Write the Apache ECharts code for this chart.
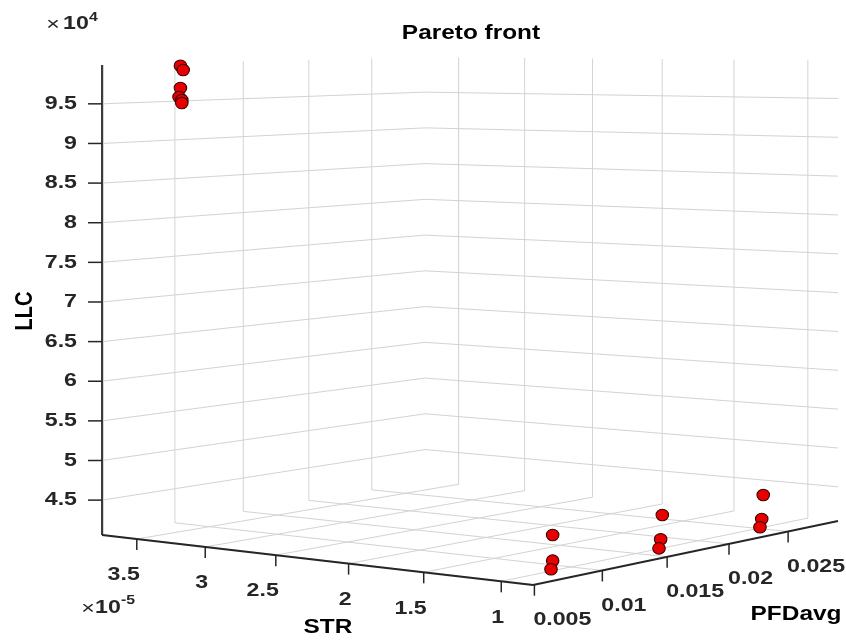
<!DOCTYPE html>
<html>
<head>
<meta charset="utf-8">
<script src="https://cdn.jsdelivr.net/npm/echarts@6/dist/echarts.min.js"></script>
<style>
  html, body { margin: 0; padding: 0; background: #ffffff; }
  #chart { width: 846px; height: 640px; }
</style>
</head>
<body>
<div id="chart"></div>
<script>
// Pareto-optimal designs: spurious trip rate, average PFD and life-cycle cost
const strValues = [3.19e-5, 3.17e-5, 3.19e-5, 3.20e-5, 3.18e-5, 3.18e-5,
                   0.80e-5, 0.80e-5, 0.80e-5,
                   0.80e-5, 0.80e-5, 0.80e-5,
                   0.80e-5, 0.80e-5, 0.80e-5];
const pfdValues = [0.0050, 0.0050, 0.0050, 0.0050, 0.0050, 0.0050,
                   0.00632, 0.00632, 0.00620,
                   0.01462, 0.01449, 0.01436,
                   0.02287, 0.02274, 0.02259];
const llcValues = [99900, 99380, 97140, 96020, 95660, 95290,
                   45910, 42940, 41980,
                   45760, 42880, 41830,
                   45810, 42850, 41860];

// Axis limits
const strRange = [0.80e-5, 3.76e-5];
const pfdRange = [0.0049, 0.0294];
const llcRange = [40600, 99900];

// Tick values and their labels
const strTicks = [1e-5, 1.5e-5, 2e-5, 2.5e-5, 3e-5, 3.5e-5];
const strTickLabels = ['1', '1.5', '2', '2.5', '3', '3.5'];
const pfdTicks = [0.005, 0.01, 0.015, 0.02, 0.025];
const pfdTickLabels = ['0.005', '0.01', '0.015', '0.02', '0.025'];
const llcTicks = [45000, 50000, 55000, 60000, 65000, 70000, 75000, 80000, 85000, 90000, 95000];
const llcTickLabels = ['4.5', '5', '5.5', '6', '6.5', '7', '7.5', '8', '8.5', '9', '9.5'];

// ---- 3-D box placement on the page (perspective view) ----
// floor corners: left (STR max, PFD min), front (STR min, PFD min),
// right (STR min, PFD max), back (STR max, PFD max); height = z extent at left corner
const box = {
  left: [102, 535], front: [533, 585], right: [838, 521], back: [425, 481],
  height: 470
};

function squareToQuad(p00, p10, p11, p01) {
  const sx = p00[0] - p10[0] + p11[0] - p01[0];
  const sy = p00[1] - p10[1] + p11[1] - p01[1];
  const dx1 = p10[0] - p11[0], dx2 = p01[0] - p11[0];
  const dy1 = p10[1] - p11[1], dy2 = p01[1] - p11[1];
  const den = dx1 * dy2 - dx2 * dy1;
  const g = (sx * dy2 - dx2 * sy) / den;
  const h = (dx1 * sy - sx * dy1) / den;
  return {
    A: p10[0] - p00[0] + g * p10[0], B: p01[0] - p00[0] + h * p01[0], C: p00[0],
    D: p10[1] - p00[1] + g * p10[1], E: p01[1] - p00[1] + h * p01[1], F: p00[1],
    g: g, h: h
  };
}
const H = squareToQuad(box.left, box.front, box.right, box.back);

// normalised box coordinates
const na = s => (strRange[1] - s) / (strRange[1] - strRange[0]);
const nb = p => (p - pfdRange[0]) / (pfdRange[1] - pfdRange[0]);
const nc = v => (v - llcRange[0]) / (llcRange[1] - llcRange[0]);

function project(a, b, c) {
  const w = 1 + H.g * a + H.h * b;
  return [(H.A * a + H.B * b + H.C) / w, (H.D * a + H.E * b + H.F - box.height * c) / w];
}

const SX = 1.22;                       // horizontal text stretch
const FONT = '"Liberation Sans", Arial, Helvetica, sans-serif';
const GRID_COLOR = '#d3d3d3';
const AXIS_COLOR = '#262626';

function renderFrame(params, api) {
  const pt = (a, b, c) => api.coord(project(a, b, c));
  const children = [];
  const seg = (p, q, color, width) => children.push({
    type: 'line', shape: { x1: p[0], y1: p[1], x2: q[0], y2: q[1] },
    style: { stroke: color, lineWidth: width }
  });
  const label = (text, x, y, align) => children.push({
    type: 'text', x: x, y: y, scaleX: SX,
    style: { text: text, font: 'bold 19px ' + FONT, fill: AXIS_COLOR,
             align: align, verticalAlign: 'middle' }
  });

  // back walls and floor grid
  llcTicks.forEach(v => {
    const c = nc(v);
    const p1 = pt(0, 0, c), p2 = pt(0, 1, c), p3 = pt(1, 1, c);
    children.push({ type: 'polyline', shape: { points: [p1, p2, p3] },
      style: { stroke: GRID_COLOR, lineWidth: 1, fill: null } });
  });
  pfdTicks.forEach(v => {
    const b = nb(v);
    seg(pt(0, b, 0), pt(0, b, 1), GRID_COLOR, 1);
    seg(pt(0, b, 0), pt(1, b, 0), GRID_COLOR, 1);
  });
  strTicks.forEach(v => {
    const a = na(v);
    seg(pt(a, 1, 0), pt(a, 1, 1), GRID_COLOR, 1);
    seg(pt(a, 0, 0), pt(a, 1, 0), GRID_COLOR, 1);
  });

  // axis lines
  seg(pt(0, 0, 0), pt(0, 0, 1), AXIS_COLOR, 1.8);
  seg(pt(0, 0, 0), pt(1, 0, 0), AXIS_COLOR, 1.8);
  seg(pt(1, 0, 0), pt(1, 1, 0), AXIS_COLOR, 1.8);

  // LLC ticks and labels
  llcTicks.forEach((v, i) => {
    const p = pt(0, 0, nc(v));
    seg([p[0] - 14, p[1]], p, AXIS_COLOR, 1.5);
    label(llcTickLabels[i], p[0] - 25, p[1], 'right');
  });
  // STR ticks and labels
  strTicks.forEach((v, i) => {
    const p = pt(na(v), 0, 0);
    seg(p, [p[0], p[1] + 11], AXIS_COLOR, 1.5);
    label(strTickLabels[i], p[0] + 3, p[1] + 36, 'right');
  });
  // PFDavg ticks and labels
  pfdTicks.forEach((v, i) => {
    const p = pt(1, nb(v), 0);
    seg(p, [p[0], p[1] + 11], AXIS_COLOR, 1.5);
    label(pfdTickLabels[i], p[0] - 1, p[1] + 35, 'left');
  });
  return { type: 'group', children: children };
}

function renderPoint(params, api) {
  const p = api.coord(project(na(api.value(0)), nb(api.value(1)), nc(api.value(2))));
  return {
    type: 'circle', x: p[0], y: p[1], scaleX: 1.08,
    shape: { cx: 0, cy: 0, r: 5.8 },
    style: { fill: '#e80000', stroke: '#3a0000', lineWidth: 1 }
  };
}

const pointData = strValues.map((s, i) => [s, pfdValues[i], llcValues[i]]);

const textStyle = (size, weight) => weight + ' ' + size + 'px ' + FONT;

const chart = echarts.init(document.getElementById('chart'), null, { renderer: 'canvas' });
chart.setOption({
  animation: false,
  backgroundColor: '#ffffff',
  grid: { left: 0, right: 0, top: 0, bottom: 0 },
  xAxis: { type: 'value', min: 0, max: 846, show: false },
  yAxis: { type: 'value', min: 0, max: 640, inverse: true, show: false },
  graphic: [
    { type: 'text', x: 471, y: 33, scaleX: SX,
      style: { text: 'Pareto front', font: textStyle(20, 'bold'), fill: '#000',
               align: 'center', verticalAlign: 'middle' } },
    { type: 'text', x: 25, y: 311, rotation: Math.PI / 2, scaleY: SX,
      style: { text: 'LLC', font: textStyle(20, 'bold'), fill: '#000',
               align: 'center', verticalAlign: 'middle' } },
    { type: 'text', x: 328, y: 627, scaleX: SX,
      style: { text: 'STR', font: textStyle(20, 'bold'), fill: '#000',
               align: 'center', verticalAlign: 'middle' } },
    { type: 'text', x: 796, y: 614, scaleX: SX,
      style: { text: 'PFDavg', font: textStyle(20, 'bold'), fill: '#000',
               align: 'center', verticalAlign: 'middle' } },
    // LLC multiplier
    { type: 'text', x: 53, y: 25, scaleX: SX,
      style: { text: '×', font: textStyle(19, 'normal'), fill: AXIS_COLOR,
               align: 'center', verticalAlign: 'middle' } },
    { type: 'text', x: 63, y: 24, scaleX: SX,
      style: { text: '10', font: textStyle(19, 'bold'), fill: AXIS_COLOR,
               align: 'left', verticalAlign: 'middle' } },
    { type: 'text', x: 89, y: 17, scaleX: SX,
      style: { text: '4', font: textStyle(13, 'bold'), fill: AXIS_COLOR,
               align: 'left', verticalAlign: 'middle' } },
    // STR multiplier
    { type: 'text', x: 88, y: 609, scaleX: SX,
      style: { text: '×', font: textStyle(19, 'normal'), fill: AXIS_COLOR,
               align: 'center', verticalAlign: 'middle' } },
    { type: 'text', x: 95, y: 608, scaleX: SX,
      style: { text: '10', font: textStyle(19, 'bold'), fill: AXIS_COLOR,
               align: 'left', verticalAlign: 'middle' } },
    { type: 'text', x: 121, y: 600, scaleX: SX,
      style: { text: '-5', font: textStyle(13, 'bold'), fill: AXIS_COLOR,
               align: 'left', verticalAlign: 'middle' } }
  ],
  series: [
    {
      type: 'custom', name: 'frame', coordinateSystem: 'cartesian2d',
      silent: true, z: 1, data: [[0, 0]], renderItem: renderFrame
    },
    {
      type: 'custom', name: 'Pareto front', coordinateSystem: 'cartesian2d',
      silent: true, z: 2, data: pointData, renderItem: renderPoint
    }
  ]
});
</script>
</body>
</html>
